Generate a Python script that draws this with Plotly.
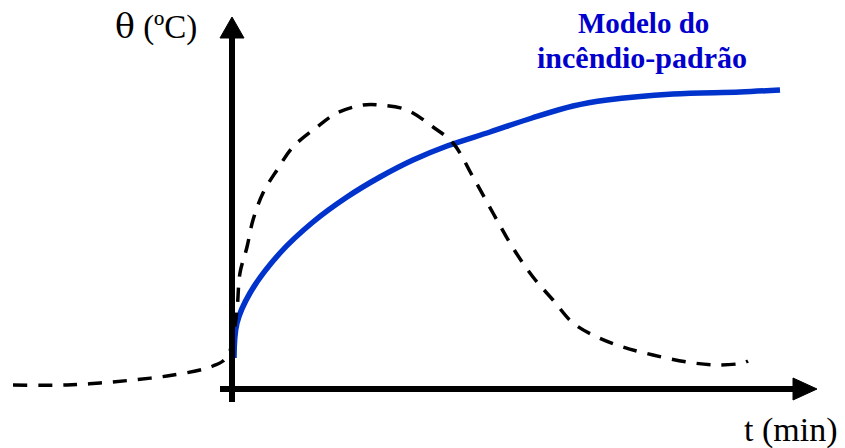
import plotly.graph_objects as go

# curva do incêndio-padrão (t, θ)
t_padrao = [2, 5, 18, 48, 81, 115, 148, 181, 215, 258, 300, 341, 375, 441, 508, 548]
theta_padrao = [31, 66, 96, 136, 167, 192, 212, 229, 243, 257, 271, 283, 289, 295, 297, 299]

# incêndio real (tracejado)
t_real = [-219, -165, -132, -99, -65, -32, -19, -9, -3, 0, 5, 8, 15, 21, 31, 45, 61, 85, 105, 131,
          148, 175, 201, 221, 241, 261, 281, 301, 321, 341, 365, 391, 421, 455, 485, 511, 516]
theta_real = [4, 4, 6, 9, 13, 19, 23, 28, 36, 45, 79, 116, 142, 169, 196, 219, 242, 262, 276, 284,
              284, 279, 262, 246, 212, 176, 141, 112, 89, 66, 52, 42, 34, 27, 24, 26, 28]

fig = go.Figure()
fig.add_trace(go.Scatter(x=t_padrao, y=theta_padrao, mode="lines",
                         line=dict(color="#0033CC", width=5.5, shape="spline"), hoverinfo="skip"))
fig.add_trace(go.Scatter(x=t_real, y=theta_real, mode="lines",
                         line=dict(color="black", width=3.5, dash="14px,11px", shape="spline"),
                         hoverinfo="skip"))

# eixos com setas
shapes = [
    dict(type="line", x0=-12, y0=0, x1=565, y1=0, line=dict(color="black", width=6), layer="above"),
    dict(type="path", path="M 561 -11 L 585 0 L 561 11 Z", fillcolor="black",
         line=dict(color="black", width=1), layer="above"),
    dict(type="line", x0=0, y0=-13, x1=0, y1=354, line=dict(color="black", width=6), layer="above"),
    dict(type="path", path="M -12 351 L 0 372 L 12 351 Z", fillcolor="black",
         line=dict(color="black", width=1), layer="above"),
]

serif = "Liberation Serif"
annotations = [
    dict(x=-76, y=363, showarrow=False,
         text="<span style='font-family:DejaVu Serif'>θ</span> (ºC)",
         font=dict(family=serif, size=33, color="black")),
    dict(x=558, y=-41, text="t (min)", showarrow=False,
         font=dict(family=serif, size=34, color="black")),
    dict(x=411, y=366, text="<b>Modelo do</b>", showarrow=False,
         font=dict(family=serif, size=29, color="#0000CC")),
    dict(x=410, y=332, text="<b>incêndio-padrão</b>", showarrow=False,
         font=dict(family=serif, size=30, color="#0000CC")),
]

fig.update_layout(
    width=845, height=448, autosize=False,
    margin=dict(l=0, r=0, t=0, b=0),
    paper_bgcolor="white", plot_bgcolor="white",
    showlegend=False,
    shapes=shapes, annotations=annotations,
    # a página tem 8 px de margem: desloca as faixas para alinhar com a referência
    xaxis=dict(range=[-224, 621], visible=False, fixedrange=True),
    yaxis=dict(range=[-67, 381], visible=False, fixedrange=True),
)

fig.write_html("out.html")
